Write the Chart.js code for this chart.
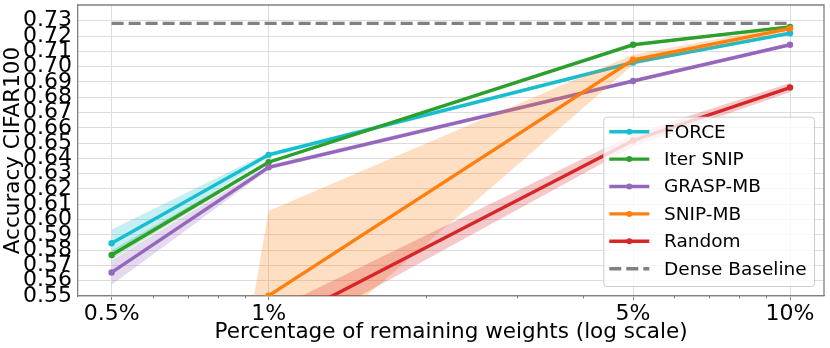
<!DOCTYPE html>
<html>
<head>
<meta charset="utf-8">
<script src="https://cdn.jsdelivr.net/npm/chart.js@4.4.1/dist/chart.umd.min.js"></script>
<style>
  html, body { margin: 0; padding: 0; background: #fff; }
  #wrap { width: 830px; height: 348px; }
</style>
</head>
<body>
<div id="wrap"><canvas id="chart" width="830" height="348"></canvas></div>
<script>
// percentage of remaining weights (x), log scale
var sparsity = [0.5, 1, 5, 10];
var xTickLabels = ['0.5%', '1%', '5%', '10%'];
var xMinorTicks = [0.6, 0.7, 0.8, 0.9, 2, 3, 4, 6, 7, 8, 9];
var yTicks = [0.55, 0.56, 0.57, 0.58, 0.59, 0.60, 0.61, 0.62, 0.63, 0.64,
              0.65, 0.66, 0.67, 0.68, 0.69, 0.70, 0.71, 0.72, 0.73];

// mean accuracy and std per method
var forceMean = [0.5845, 0.6423, 0.7027, 0.7218];
var forceStd = [0.009, 0.0015, 0.001, 0.001];
var iterSnipMean = [0.5768, 0.6375, 0.7143, 0.7260];
var iterSnipStd = [0.003, 0.001, 0.001, 0.001];
var graspMean = [0.5654, 0.6342, 0.6906, 0.7143];
var graspStd = [0.008, 0.0015, 0.0012, 0.0012];
var snipMean = [0.01, 0.5502, 0.7045, 0.7249];
var snipStd = [0, 0.0554, 0.0033, 0.002];
var randomMean = [0.45, 0.5285, 0.6517, 0.6863];
var randomStd = [0.01, 0.011, 0.004, 0.003];
var denseBaseline = 0.7283;

var methods = [
    { label: 'FORCE', color: '#17becf', mean: forceMean, std: forceStd },
    { label: 'Iter SNIP', color: '#2ca02c', mean: iterSnipMean, std: iterSnipStd },
    { label: 'GRASP-MB', color: '#9467bd', mean: graspMean, std: graspStd },
    { label: 'SNIP-MB', color: '#ff7f0e', mean: snipMean, std: snipStd },
    { label: 'Random', color: '#d62728', mean: randomMean, std: randomStd }
];

var FONT = 'DejaVu Sans';

function rgba(hex, a) {
    var n = parseInt(hex.slice(1), 16);
    return 'rgba(' + (n >> 16) + ',' + ((n >> 8) & 255) + ',' + (n & 255) + ',' + a + ')';
}

function points(values) {
    return sparsity.map(function (x, i) { return { x: x, y: values[i] }; });
}

var datasets = [];
var seq = 0;
methods.forEach(function (m) {
    var lowerIdx = datasets.length;
    datasets.push({
        label: m.label + ' lower', isBand: true,
        data: points(m.mean.map(function (v, i) { return v - m.std[i]; })),
        borderColor: 'transparent', borderWidth: 0, pointRadius: 0, fill: false,
        order: 100 - seq++
    });
    datasets.push({
        label: m.label + ' upper', isBand: true,
        data: points(m.mean.map(function (v, i) { return v + m.std[i]; })),
        borderColor: 'transparent', borderWidth: 0, pointRadius: 0,
        backgroundColor: rgba(m.color, 0.25), fill: lowerIdx,
        order: 100 - seq++
    });
    datasets.push({
        label: m.label,
        data: points(m.mean),
        borderColor: m.color, backgroundColor: m.color,
        borderWidth: 3.4, pointRadius: 3.2, pointBorderWidth: 0,
        pointBackgroundColor: m.color, fill: false,
        order: 100 - seq++
    });
});
datasets.push({
    label: 'Dense Baseline',
    data: [{ x: sparsity[0], y: denseBaseline }, { x: sparsity[sparsity.length - 1], y: denseBaseline }],
    borderColor: '#808080', borderWidth: 3.4, borderDash: [12, 5],
    pointRadius: 0, fill: false,
    order: 100 - seq++
});

// top/right spines and minor x ticks
var framePlugin = {
    id: 'frame',
    afterDraw: function (chart) {
        var ctx = chart.ctx, a = chart.chartArea, xs = chart.scales.x;
        ctx.save();
        ctx.strokeStyle = '#808080';
        ctx.lineWidth = 1.3;
        ctx.beginPath();
        ctx.moveTo(a.left, a.top);
        ctx.lineTo(a.right, a.top);
        ctx.lineTo(a.right, a.bottom);
        ctx.stroke();
        ctx.lineWidth = 1;
        ctx.beginPath();
        xMinorTicks.forEach(function (v) {
            var px = Math.round(xs.getPixelForValue(v)) + 0.5;
            ctx.moveTo(px, a.bottom);
            ctx.lineTo(px, a.bottom + 2.5);
        });
        ctx.stroke();
        ctx.restore();
    }
};

// matplotlib-like legend in the lower right corner
var legendPlugin = {
    id: 'mplLegend',
    afterDraw: function (chart) {
        var ctx = chart.ctx, a = chart.chartArea;
        var items = chart.data.datasets.filter(function (d) { return !d.isBand; });
        var rowH = 27.4, boxW = 210.7, boxH = 169.3;
        var right = a.right - 10, bottom = a.bottom - 10;
        var left = right - boxW, top = bottom - boxH;
        ctx.save();
        ctx.beginPath();
        ctx.roundRect(left + 0.5, top + 0.5, boxW, boxH, 3);
        ctx.fillStyle = 'rgba(255,255,255,0.8)';
        ctx.fill();
        ctx.strokeStyle = '#cccccc';
        ctx.lineWidth = 1;
        ctx.stroke();
        ctx.font = '18.5px "' + FONT + '"';
        ctx.textBaseline = 'middle';
        ctx.fillStyle = '#000';
        items.forEach(function (d, i) {
            var cy = top + 15 + i * rowH;
            var x0 = left + 6, x1 = left + 46;
            ctx.strokeStyle = d.borderColor;
            ctx.lineWidth = d.borderWidth;
            ctx.setLineDash(d.borderDash || []);
            ctx.beginPath();
            ctx.moveTo(x0, cy);
            ctx.lineTo(x1, cy);
            ctx.stroke();
            ctx.setLineDash([]);
            if (d.pointRadius) {
                ctx.fillStyle = d.borderColor;
                ctx.beginPath();
                ctx.arc((x0 + x1) / 2, cy, 3, 0, Math.PI * 2);
                ctx.fill();
            }
            ctx.fillStyle = '#000';
            ctx.fillText(d.label, left + 60.7, cy + 1);
        });
        ctx.restore();
    }
};

new Chart(document.getElementById('chart'), {
    type: 'line',
    data: { datasets: datasets },
    plugins: [framePlugin, legendPlugin],
    options: {
        responsive: false,
        animation: false,
        devicePixelRatio: 1,
        layout: { padding: { top: 5, right: 6, left: 0, bottom: 0 } },
        plugins: {
            legend: { display: false },
            tooltip: { enabled: false }
        },
        scales: {
            x: {
                type: 'logarithmic',
                bounds: 'data',
                min: 0.431,
                max: 11.62,
                afterBuildTicks: function (s) {
                    s.ticks = sparsity.map(function (v) { return { value: v }; });
                },
                afterFit: function (s) {
                    s.height = 52;
                    s.paddingLeft = 0;
                    s.paddingRight = 0;
                },
                ticks: {
                    autoSkip: false, maxRotation: 0, minRotation: 0, padding: 1,
                    color: '#000', font: { family: FONT, size: 22 },
                    callback: function (v, i) { return xTickLabels[i]; }
                },
                grid: { color: '#dddddd', lineWidth: 1, tickLength: 4, tickColor: '#808080' },
                border: { color: '#808080', width: 1.3 },
                title: {
                    display: true, text: 'Percentage of remaining weights (log scale)',
                    color: '#000', font: { family: FONT, size: 21.5 },
                    padding: { top: 0, bottom: 3 }
                }
            },
            y: {
                bounds: 'data',
                min: 0.55,
                max: 0.7403,
                afterBuildTicks: function (s) {
                    s.ticks = yTicks.map(function (v) { return { value: v }; });
                },
                afterFit: function (s) {
                    s.width = 78;
                    s.paddingTop = 0;
                    s.paddingBottom = 0;
                },
                ticks: {
                    autoSkip: false, padding: 6,
                    color: '#000', font: { family: FONT, size: 22 },
                    callback: function (v) { return v.toFixed(2); }
                },
                grid: { color: '#dddddd', lineWidth: 1, drawTicks: false },
                border: { color: '#808080', width: 1.3 },
                title: {
                    display: true, text: 'Accuracy CIFAR100',
                    color: '#000', font: { family: FONT, size: 21.5 },
                    padding: { top: 1, bottom: 0 }
                }
            }
        }
    }
});
</script>
</body>
</html>
